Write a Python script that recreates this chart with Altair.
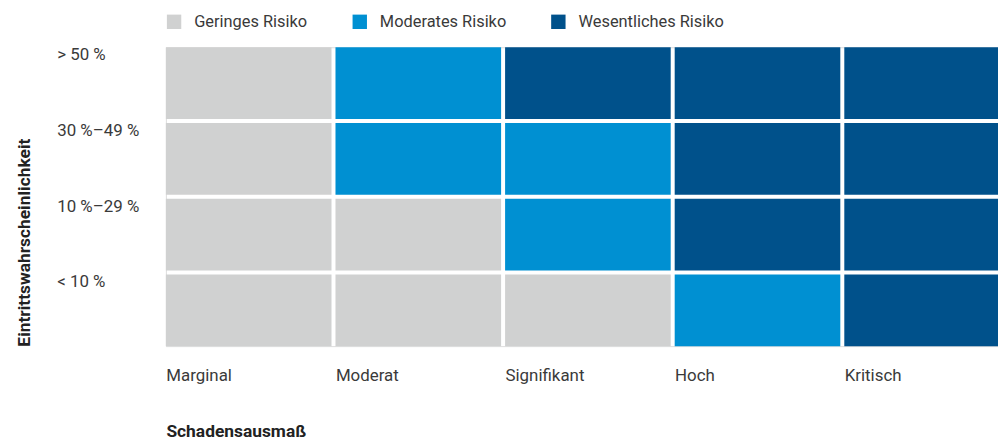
import altair as alt
import pandas as pd

impact = ["Marginal", "Moderat", "Signifikant", "Hoch", "Kritisch"]
likelihood = ["> 50 %", "30 %–49 %", "10 %–29 %", "< 10 %"]
risk_levels = ["Geringes Risiko", "Moderates Risiko", "Wesentliches Risiko"]
risk_colors = ["#d0d1d1", "#0090d2", "#00518b"]

# risk level index per row (likelihood) and column (impact)
matrix = [
    [0, 1, 2, 2, 2],
    [0, 1, 1, 2, 2],
    [0, 0, 1, 2, 2],
    [0, 0, 0, 1, 2],
]

rows = []
for i, lk in enumerate(likelihood):
    for j, im in enumerate(impact):
        rows.append({"Schadensausmaß": im, "Eintritt": lk, "Risiko": risk_levels[matrix[i][j]]})
df = pd.DataFrame(rows)

FONT = "Roboto"
TXT = "#3a3a3a"

chart = alt.Chart(df).mark_rect().encode(
    x=alt.X(
        "Schadensausmaß:N",
        sort=impact,
        scale=alt.Scale(paddingInner=0.0235, paddingOuter=0, range=[0, 850]),
        axis=alt.Axis(
            title="Schadensausmaß",
            orient="bottom",
            labelAlign="left",
            labelBaseline="middle",
            labelPadding=30,
            labelOffset=-83,
            labelAngle=0,
            labelFontSize=17,
            labelFont=FONT,
            labelColor=TXT,
            titleFont=FONT,
            titleFontSize=17.5,
            titleFontWeight="bold",
            titleColor="#222222",
            titleAnchor="start",
            titleAlign="left",
            titleBaseline="middle",
            titleX=0,
            titleY=86,
            domain=False,
            ticks=False,
            grid=False,
        ),
    ),
    y=alt.Y(
        "Eintritt:N",
        sort=likelihood,
        scale=alt.Scale(paddingInner=0.053, paddingOuter=0),
        axis=alt.Axis(
            title="Eintrittswahrscheinlichkeit",
            orient="left",
            labelAlign="left",
            labelBaseline="top",
            labelPadding=110,
            labelOffset=-36,
            labelFontSize=17,
            labelFont=FONT,
            labelColor=TXT,
            labelLimit=200,
            titleFont=FONT,
            titleFontSize=17.5,
            titleFontWeight="bold",
            titleColor="#222222",
            titleAngle=270,
            titleAlign="left",
            titleBaseline="middle",
            titleX=-142,
            titleY=301,
            domain=False,
            ticks=False,
            grid=False,
        ),
    ),
    color=alt.Color(
        "Risiko:N",
        scale=alt.Scale(domain=risk_levels, range=risk_colors),
        legend=alt.Legend(
            title=None,
            orient="none",
            direction="horizontal",
            legendX=0,
            legendY=-34,
            symbolType="square",
            symbolSize=210,
            symbolStrokeWidth=0,
            symbolOpacity=1,
            labelFont=FONT,
            labelFontSize=16.5,
            labelColor=TXT,
            labelOffset=12,
            columnPadding=44,
            padding=0,
        ),
    ),
).properties(
    width=838,
    height=301,
    autosize=alt.AutoSizeParams(type="none"),
    padding={"left": 159, "top": 38, "right": 0, "bottom": 93},
).configure_view(stroke=None).configure(background="white")

chart.save("out.html", embed_options={"renderer": "svg", "actions": False})
